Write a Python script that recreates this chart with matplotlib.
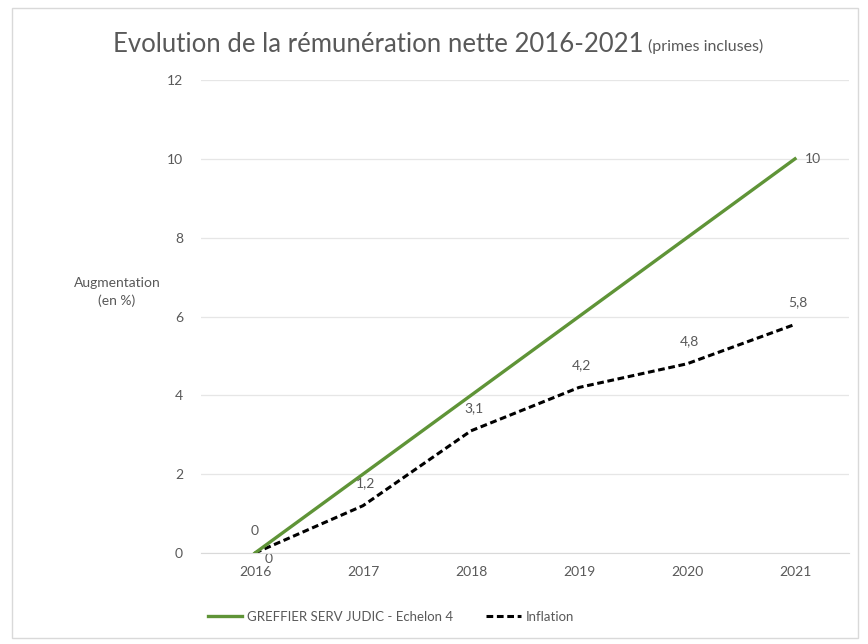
import matplotlib
matplotlib.use("Agg")
import matplotlib.pyplot as plt
from matplotlib.patches import Rectangle
from matplotlib.lines import Line2D

plt.rcParams['font.family'] = ['Lato', 'DejaVu Sans']

years = ["2016", "2017", "2018", "2019", "2020", "2021"]
greffier = [0, 2, 4, 6, 8, 10]
inflation = [0, 1.2, 3.1, 4.2, 4.8, 5.8]
greffier_label = "GREFFIER SERV JUDIC - Echelon 4"
inflation_label = "Inflation"
yticks = [0, 2, 4, 6, 8, 10, 12]

GREEN = '#5f9437'
GREY = '#595959'

W, H = 868, 644
fig = plt.figure(figsize=(W / 100, H / 100), dpi=100)
fig.patch.set_facecolor('white')
fig.add_artist(Rectangle((12 / W, 6 / H), 846 / W, 630 / H, transform=fig.transFigure,
                         fill=False, edgecolor='#d9d9d9', linewidth=1.0))

ax = fig.add_axes([201 / W, 1 - 553 / H, 648 / W, 473 / H])
x = list(range(len(years)))

ax.plot(x, inflation, color='black', linestyle=(0, (2.2, 1.2)), linewidth=2.2, zorder=3)
ax.plot(x, greffier, color=GREEN, linewidth=2.4, zorder=4)

ax.set_xlim(-0.5, len(years) - 0.5)
ax.set_ylim(0, 12)
ax.set_xticks(x)
ax.set_xticklabels(years)
ax.set_yticks(yticks)
ax.set_yticklabels([str(t) for t in yticks])
ax.tick_params(axis='both', length=0, colors=GREY, labelsize=10)
ax.tick_params(axis='y', pad=13)
ax.tick_params(axis='x', pad=9)
for s in ['top', 'right', 'left']:
    ax.spines[s].set_visible(False)
ax.spines['bottom'].set_color('#d9d9d9')
ax.grid(axis='y', color='#e6e6e6', linewidth=0.9)
ax.set_axisbelow(True)

# data labels
for xi, v in zip(x, inflation):
    if v == 0:
        ax.annotate(f"{v:g}".replace('.', ','), (xi, v), xytext=(10, -4), textcoords='offset points',
                    ha='center', va='center', color=GREY, fontsize=10, zorder=2)
    else:
        ax.annotate(f"{v:g}".replace('.', ','), (xi, v), xytext=(2, 16), textcoords='offset points',
                    ha='center', va='center', color=GREY, fontsize=10, zorder=2)
ax.annotate(f"{greffier[0]:g}", (x[0], greffier[0]), xytext=(0, 16), textcoords='offset points',
            ha='center', va='center', color=GREY, fontsize=10)
ax.annotate(f"{greffier[-1]:g}", (x[-1], greffier[-1]), xytext=(7, 0), textcoords='offset points',
            ha='left', va='center', color=GREY, fontsize=10)

fig.text(117 / W, 1 - 292 / H, "Augmentation\n(en %)", ha='center', va='center',
         color=GREY, fontsize=10, linespacing=1.5)

t1 = fig.text(113 / W, 1 - 45 / H, "Evolution de la rémunération nette 2016-2021", ha='left',
              va='center', color=GREY, fontsize=18.5)
fig.canvas.draw()
bb = t1.get_window_extent()
fig.text(bb.x1 / W + 5 / W, 1 - 46 / H, "(primes incluses)", ha='left', va='center',
         color=GREY, fontsize=11.5)

handles = [Line2D([], [], color=GREEN, linewidth=2.4),
           Line2D([], [], color='black', linestyle=(0, (2.2, 1.2)), linewidth=2.2)]
fig.legend(handles, [greffier_label, inflation_label], loc='center',
           bbox_to_anchor=(391 / W, 1 - 617 / H), ncol=2, frameon=False,
           fontsize=9.5, labelcolor=GREY, handlelength=2.6, columnspacing=2.5, handletextpad=0.4)

fig.savefig("out.png", dpi=100)
